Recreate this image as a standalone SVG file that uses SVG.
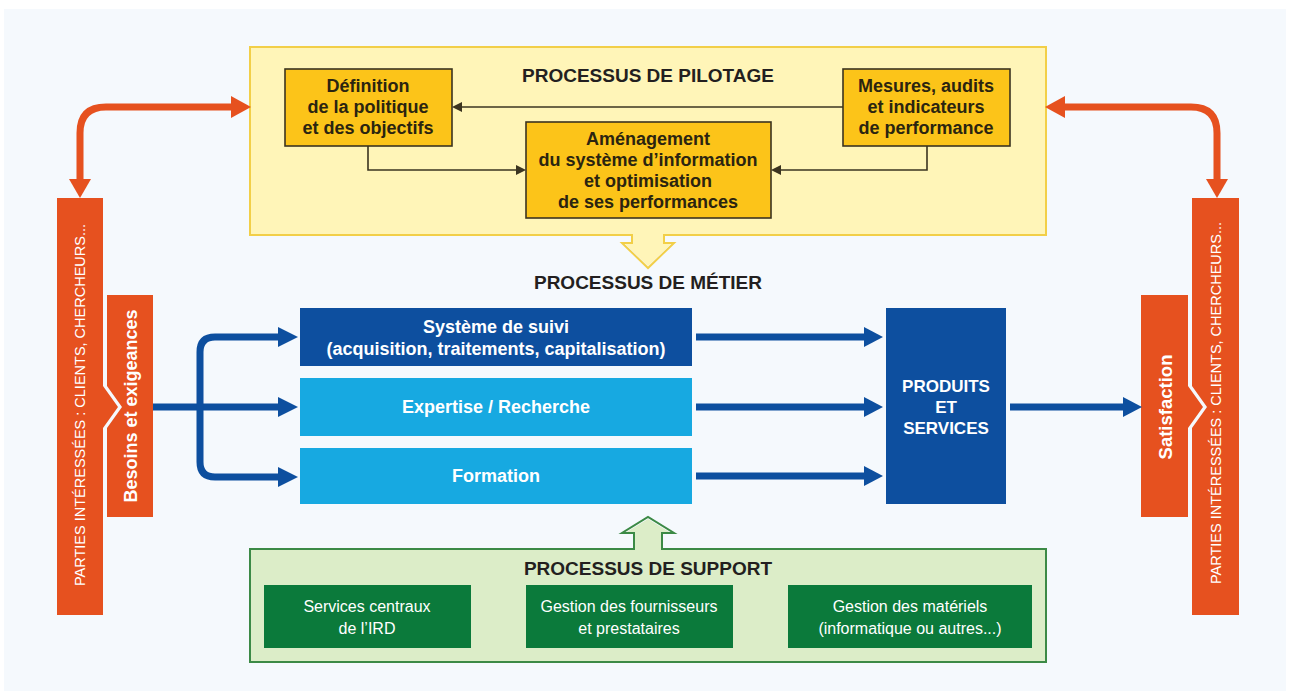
<svg xmlns="http://www.w3.org/2000/svg" width="1290" height="695" viewBox="0 0 1290 695">
<style>
  text { font-family: "Liberation Sans", Arial, sans-serif; }
  .title { font-size: 19px; font-weight: bold; fill: #231f20; text-anchor: middle; }
  .ybox { fill: #fcc419; stroke: #3b3420; stroke-width: 1.6; }
  .ytxt { font-size: 18px; font-weight: bold; fill: #2b2410; text-anchor: middle; }
  .btxt { font-size: 18px; font-weight: bold; fill: #ffffff; text-anchor: middle; }
  .gtxt { font-size: 16px; fill: #ffffff; text-anchor: middle; }
  .otxt { fill: #ffffff; text-anchor: middle; dominant-baseline: central; }
  .orange { fill: #e6511f; }
  .dblue { fill: #0d4f9f; }
  .lblue { fill: #17a9e1; }
  .dgreen { fill: #0b7a3b; }
  .thin { fill: none; stroke: #3b3420; stroke-width: 1.6; }
  .bluel { fill: none; stroke: #0d4f9f; stroke-width: 7; }
  .orl { fill: none; stroke: #e6511f; stroke-width: 7; }
</style>
<rect x="0" y="0" width="1290" height="695" fill="#ffffff"/>
<rect x="4" y="9" width="1282" height="682" fill="#f5f9fd"/>

<!-- Pilotage -->
<g id="pilotage">
  <rect x="250" y="47" width="796" height="188" fill="#fff5b8" stroke="#f2cf48" stroke-width="2"/>
  <text class="title" x="648" y="82">PROCESSUS DE PILOTAGE</text>
</g>
<g id="definition">
  <rect class="ybox" x="285" y="69" width="167" height="77"/>
  <text class="ytxt" x="368" y="92">Définition</text>
  <text class="ytxt" x="368" y="113">de la politique</text>
  <text class="ytxt" x="368" y="134">et des objectifs</text>
</g>
<g id="mesures">
  <rect class="ybox" x="843" y="69" width="167" height="77"/>
  <text class="ytxt" x="926" y="92">Mesures, audits</text>
  <text class="ytxt" x="926" y="113">et indicateurs</text>
  <text class="ytxt" x="926" y="134">de performance</text>
</g>
<g id="amenagement">
  <rect class="ybox" x="526" y="122" width="245" height="96"/>
  <text class="ytxt" x="648" y="145">Aménagement</text>
  <text class="ytxt" x="648" y="166">du système d’information</text>
  <text class="ytxt" x="648" y="187">et optimisation</text>
  <text class="ytxt" x="648" y="208">de ses performances</text>
</g>

<!-- Métier -->
<g id="metier-title">
  <text class="title" x="648" y="289">PROCESSUS DE MÉTIER</text>
</g>
<g id="suivi">
  <rect class="dblue" x="300" y="308" width="392" height="58"/>
  <text class="btxt" x="496" y="333">Système de suivi</text>
  <text class="btxt" x="496" y="355">(acquisition, traitements, capitalisation)</text>
</g>
<g id="expertise">
  <rect class="lblue" x="300" y="378" width="392" height="58"/>
  <text class="btxt" x="496" y="413">Expertise / Recherche</text>
</g>
<g id="formation">
  <rect class="lblue" x="300" y="448" width="392" height="56"/>
  <text class="btxt" x="496" y="482">Formation</text>
</g>
<g id="produits">
  <rect class="dblue" x="886" y="308" width="120" height="196"/>
  <text class="btxt" x="946" y="392" style="font-size:17px">PRODUITS</text>
  <text class="btxt" x="946" y="413" style="font-size:17px">ET</text>
  <text class="btxt" x="946" y="434" style="font-size:17px">SERVICES</text>
</g>

<!-- Support -->
<g id="support">
  <rect x="250" y="549" width="796" height="113" fill="#dcedc8" stroke="#3c8a46" stroke-width="2"/>
  <text class="title" x="648" y="575">PROCESSUS DE SUPPORT</text>
</g>
<g id="services">
  <rect class="dgreen" x="264" y="585" width="207" height="63"/>
  <text class="gtxt" x="367" y="612">Services centraux</text>
  <text class="gtxt" x="367" y="634">de l’IRD</text>
</g>
<g id="fournisseurs">
  <rect class="dgreen" x="526" y="585" width="207" height="63"/>
  <text class="gtxt" x="629" y="612">Gestion des fournisseurs</text>
  <text class="gtxt" x="629" y="634">et prestataires</text>
</g>
<g id="materiels">
  <rect class="dgreen" x="788" y="585" width="244" height="63"/>
  <text class="gtxt" x="910" y="612">Gestion des matériels</text>
  <text class="gtxt" x="910" y="634">(informatique ou autres...)</text>
</g>

<!-- Parties intéressées left -->
<g id="parties-gauche">
  <polygon class="orange" points="57,198 103,198 103,386 118,407 103,428 103,615 57,615"/>
  <text class="otxt" transform="translate(80,405) rotate(-90)" style="font-size:14.5px">PARTIES INTÉRESSÉES : CLIENTS, CHERCHEURS...</text>
</g>
<g id="besoins">
  <polygon class="orange" points="107,295 153,295 153,517 107,517 107,428 122,407 107,386"/>
  <text class="otxt" transform="translate(131,406) rotate(-90)" style="font-size:18px;font-weight:bold">Besoins et exigeances</text>
</g>
<!-- Parties intéressées right -->
<g id="satisfaction">
  <polygon class="orange" points="1141,295 1188,295 1188,386 1203,407 1188,428 1188,517 1141,517"/>
  <text class="otxt" transform="translate(1165,407) rotate(-90)" style="font-size:18.5px;font-weight:bold">Satisfaction</text>
</g>
<g id="parties-droite">
  <polygon class="orange" points="1192,198 1239,198 1239,615 1192,615 1192,428 1207,407 1192,386"/>
  <text class="otxt" transform="translate(1216,403) rotate(-90)" style="font-size:14.5px">PARTIES INTÉRESSÉES : CLIENTS, CHERCHEURS...</text>
</g>

<!-- Connectors -->
<g id="connectors">
  <!-- inside pilotage -->
  <line class="thin" x1="843" y1="107" x2="460" y2="107"/>
  <polygon fill="#3b3420" points="452,107 462,102 462,112"/>
  <polyline class="thin" points="368,146 368,170 518,170"/>
  <polygon fill="#3b3420" points="526,170 516,165 516,175"/>
  <polyline class="thin" points="927,146 927,170 779,170"/>
  <polygon fill="#3b3420" points="771,170 781,165 781,175"/>

  <!-- yellow arrow down -->
  <polygon fill="#fff5b8" points="633,232 663,232 663,243 672,243 648,266 624,243 633,243"/>
  <path d="M632,235 V243 H622 L648,268 L674,243 H664 V235" fill="none" stroke="#f2cf48" stroke-width="2"/>

  <!-- green arrow up -->
  <polygon fill="#dcedc8" points="635,551 661,551 661,533 671,533 648,519 625,533 635,533"/>
  <path d="M634,549 V533 H622 L648,517 L674,533 H662 V549" fill="none" stroke="#3c8a46" stroke-width="2"/>

  <!-- orange feedback arrows -->
  <path class="orl" d="M233,107 H106 Q80,107 80,133 V181"/>
  <polygon class="orange" points="231,96 251,107 231,118"/>
  <polygon class="orange" points="69,179 80,198 91,179"/>
  <path class="orl" d="M1063,107 H1191 Q1217,107 1217,133 V181"/>
  <polygon class="orange" points="1065,96 1045,107 1065,118"/>
  <polygon class="orange" points="1206,179 1217,198 1228,179"/>

  <!-- blue fork from besoins -->
  <line class="bluel" x1="153" y1="407" x2="280" y2="407"/>
  <path class="bluel" d="M280,337 H215 Q200,337 200,352 V462 Q200,477 215,477 H280"/>
  <polygon class="dblue" points="278,327 298,337 278,347"/>
  <polygon class="dblue" points="278,397 298,407 278,417"/>
  <polygon class="dblue" points="278,467 298,477 278,487"/>

  <!-- blue arrows to produits -->
  <line class="bluel" x1="696" y1="337" x2="866" y2="337"/>
  <polygon class="dblue" points="864,327 883,337 864,347"/>
  <line class="bluel" x1="696" y1="407" x2="866" y2="407"/>
  <polygon class="dblue" points="864,397 883,407 864,417"/>
  <line class="bluel" x1="696" y1="476" x2="866" y2="476"/>
  <polygon class="dblue" points="864,466 883,476 864,486"/>

  <!-- produits to satisfaction -->
  <line class="bluel" x1="1010" y1="407" x2="1125" y2="407"/>
  <polygon class="dblue" points="1123,397 1142,407 1123,417"/>
</g>
</svg>
